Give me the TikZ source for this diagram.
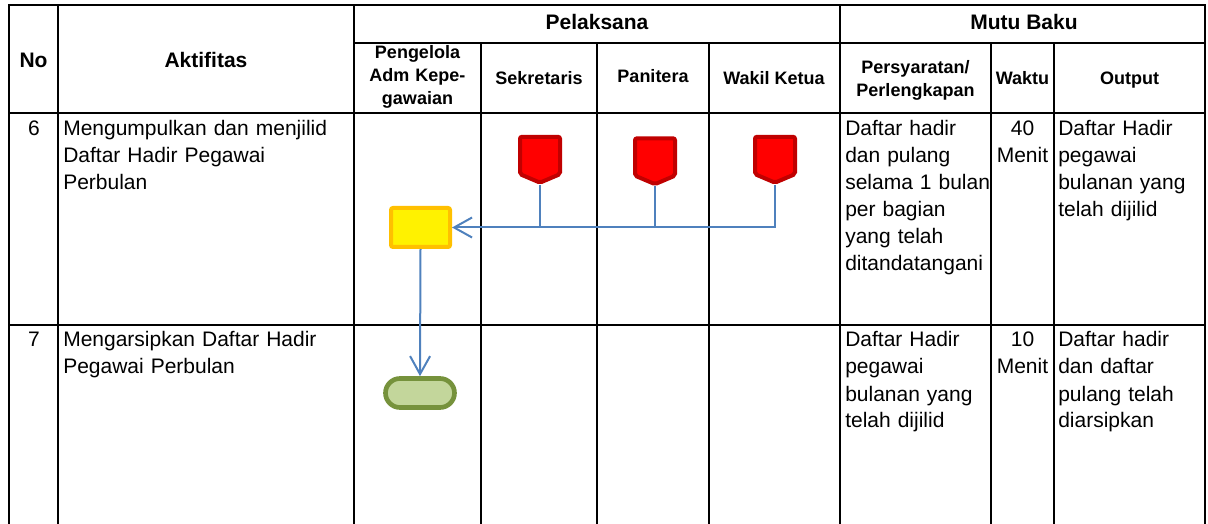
\documentclass[tikz,border=0pt]{standalone}
\usepackage{fontspec}
\setmainfont{Liberation Sans}
\usepackage{tikz}
\usetikzlibrary{shapes.symbols,shapes.misc,arrows.meta}

\definecolor{flowblue}{HTML}{4F81BD}
\definecolor{offred}{HTML}{C00000}
\definecolor{procedge}{HTML}{FFC000}
\definecolor{termedge}{HTML}{76923C}
\definecolor{termfill}{HTML}{C3D69B}

\newcommand{\bodyfont}{\fontsize{15.75}{20.25}\selectfont}
\newcommand{\headfont}{\fontsize{15.75}{20.25}\selectfont\bfseries}
\newcommand{\subheadfont}{\fontsize{13.5}{17.25}\selectfont\bfseries}

\tikzset{
  grid/.style={line width=2.1pt},
  cell/.style={anchor=base west,inner sep=0pt,align=left,font=\bodyfont},
  numcell/.style={anchor=base,inner sep=0pt,align=center,font=\bodyfont},
  headcell/.style={anchor=base,inner sep=0pt,align=center,font=\headfont},
  subcell/.style={anchor=base,inner sep=0pt,align=center,font=\subheadfont},
  offpage/.style={shape=signal,signal to=south,signal from=nowhere,signal pointer angle=134,
    draw=offred,fill=red,line width=3pt,rounded corners=1.5pt,inner sep=0pt,
    minimum width=30pt,minimum height=28pt},
  process/.style={draw=procedge,fill=yellow,line width=3pt,rounded corners=1.5pt,inner sep=0pt,
    minimum width=44.25pt,minimum height=29.25pt},
  terminal/.style={shape=rounded rectangle,draw=termedge,fill=termfill,line width=3.5pt,inner sep=0pt,
    minimum width=51.75pt,minimum height=21.75pt},
  flow/.style={draw=flowblue,line width=1.5pt},
  flowarrow/.style={flow,-{Straight Barb[length=13.5pt,width=15pt,line width=1.5pt]}}
}

\begin{document}
\begin{tikzpicture}[x=0.75pt,y=0.75pt,yscale=-1,xscale=1]
\useasboundingbox (0,0) rectangle (1208,524);

%Table frame
\draw[grid] (9,524) -- (9,5) -- (1205,5) -- (1205,524) ;
\draw[grid] (354,43) -- (1205,43) ;
\draw[grid] (9,113) -- (1205,113) ;
\draw[grid] (9,325) -- (1205,325) ;
%Column lines
\draw[grid] (58,5) -- (58,524) ;
\draw[grid] (354,5) -- (354,524) ;
\draw[grid] (840,5) -- (840,524) ;
\foreach \cx in {481,597,709,991,1054}
  \draw[grid] (\cx,43) -- (\cx,524) ;

% Header Text
\node[headcell] (hNo) at (33.5,67.5) {No};
\node[headcell] (hAkt) at (206,67.5) {Aktifitas};
\node[headcell] (hPel) at (597,29.5) {Pelaksana};
\node[headcell] (hMutu) at (1024,29.5) {Mutu Baku};
\node[subcell,text width=90pt] (hPeng) at (417.5,58.5) {Pengelola\\Adm Kepe-\\gawaian};
\node[subcell] (hSek) at (539,84.5) {Sekretaris};
\node[subcell] (hPan) at (653,83) {Panitera};
\node[subcell] (hWak) at (774,84.5) {Wakil Ketua};
\node[subcell,text width=110pt] (hSyarat) at (915.5,73.5) {Persyaratan/\\Perlengkapan};
\node[subcell] (hWaktu) at (1022.5,84.5) {Waktu};
\node[subcell] (hOut) at (1129.5,84.5) {Output};

% Row 6
\node[numcell] (no6) at (34,136) {6};
\node[cell,text width=215pt] (act6) at (63,136) {Mengumpulkan dan menjilid\\Daftar Hadir Pegawai\\Perbulan};
\node[cell,text width=110pt] (req6) at (845,136) {Daftar hadir\\dan pulang\\selama 1 bulan\\per bagian\\yang telah\\ditandatangani};
\node[numcell,text width=46pt] (time6) at (1022.5,136) {40\\Menit};
\node[cell,text width=110pt] (out6) at (1058,136) {Daftar Hadir\\pegawai\\bulanan yang\\telah dijilid};

% Row 7
\node[numcell] (no7) at (34,347) {7};
\node[cell,text width=215pt] (act7) at (63,347) {Mengarsipkan Daftar Hadir\\Pegawai Perbulan};
\node[cell,text width=110pt] (req7) at (845,347) {Daftar Hadir\\pegawai\\bulanan yang\\telah dijilid};
\node[numcell,text width=46pt] (time7) at (1022.5,347) {10\\Menit};
\node[cell,text width=110pt] (out7) at (1058,347) {Daftar hadir\\dan daftar\\pulang telah\\diarsipkan};

%Shape: Off-page connectors
\node[offpage] (sek) at (540,155.5) {};
\node[offpage] (pan) at (655,157) {};
\node[offpage] (wak) at (775,155.5) {};
%Shape: Process
\node[process] (adm) at (420.5,227.5) {};
%Shape: Terminator
\node[terminal] (fin) at (420,393) {};

%Connectors
\draw[flowarrow] (wak.south) |- (adm.east) ;
\draw[flow] (sek.south) -- (sek.south |- adm.east) ;
\draw[flow] (pan.south) -- (pan.south |- adm.east) ;
\draw[flowarrow] (adm.south) -- (fin.north) ;

\end{tikzpicture}
\end{document}
